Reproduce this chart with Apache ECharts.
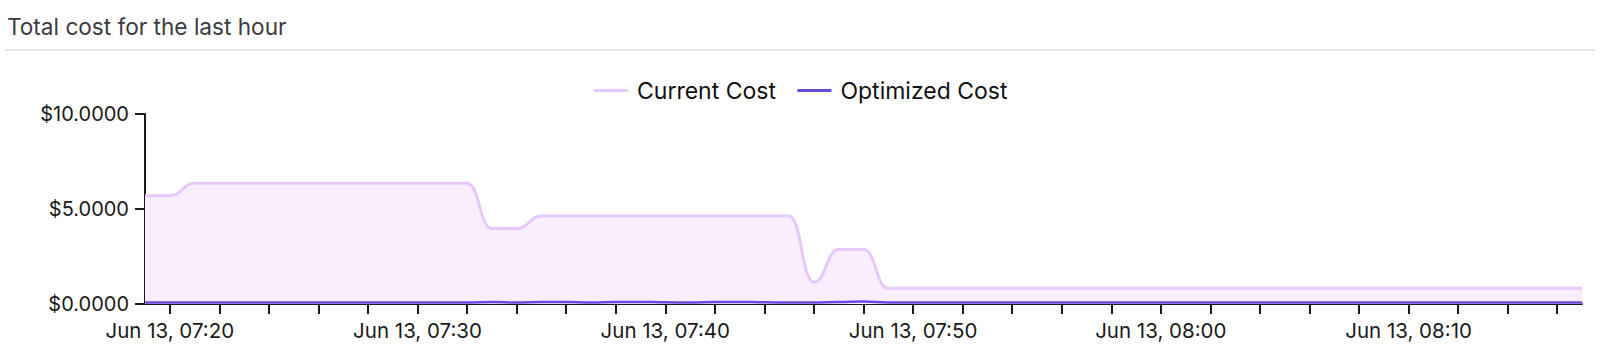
<!DOCTYPE html>
<html>
<head>
<meta charset="utf-8">
<style>
  html, body { margin: 0; padding: 0; background: #fff; }
  #chart { width: 1600px; height: 362px; }
</style>
<script src="https://cdn.jsdelivr.net/npm/echarts@6/dist/echarts.min.js"></script>
</head>
<body>
<div id="chart"></div>
<script>
// ---- data ----
const chartTitle = 'Total cost for the last hour';
const seriesNames = ['Current Cost', 'Optimized Cost'];
// one point per minute, from 07:19 to 08:17 on Jun 13
const startTime = [2024, 5, 13, 7, 19];
const minuteCount = 59;
const currentCost = [
  5.70, 5.70,
  6.35, 6.35, 6.35, 6.35, 6.35, 6.35, 6.35, 6.35, 6.35, 6.35, 6.35, 6.35,
  3.97, 3.97,
  4.63, 4.63, 4.63, 4.63, 4.63, 4.63, 4.63, 4.63, 4.63, 4.63, 4.63,
  1.15,
  2.87, 2.87,
  0.83, 0.83, 0.83, 0.83, 0.83, 0.83, 0.83, 0.83, 0.83, 0.83,
  0.83, 0.83, 0.83, 0.83, 0.83, 0.83, 0.83, 0.83, 0.83, 0.83,
  0.83, 0.83, 0.83, 0.83, 0.83, 0.83, 0.83, 0.83, 0.83
];
const optimizedCost = [
  0.08, 0.08, 0.08, 0.08, 0.08, 0.08, 0.08, 0.08, 0.08, 0.08, 0.08, 0.08, 0.08, 0.08,
  0.10, 0.08, 0.11, 0.10, 0.08, 0.10, 0.11, 0.09, 0.08, 0.10, 0.11, 0.09, 0.08,
  0.08, 0.10, 0.13,
  0.08, 0.08, 0.08, 0.08, 0.08, 0.08, 0.08, 0.08, 0.08, 0.08,
  0.08, 0.08, 0.08, 0.08, 0.08, 0.08, 0.08, 0.08, 0.08, 0.08,
  0.08, 0.08, 0.08, 0.08, 0.08, 0.08, 0.08, 0.08, 0.08
];
const yTicks = [0, 5, 10];
const monthNames = ['Jan','Feb','Mar','Apr','May','Jun','Jul','Aug','Sep','Oct','Nov','Dec'];

// ---- build ----
const t0 = new Date(startTime[0], startTime[1], startTime[2], startTime[3], startTime[4]).getTime();
const times = [];
for (let i = 0; i < minuteCount; i++) times.push(t0 + i * 60000);
const pad = n => (n < 10 ? '0' : '') + n;
const FONT = 'Inter, "Noto Sans", sans-serif';

const chart = echarts.init(document.getElementById('chart'), null, { renderer: 'svg' });
chart.setOption({
  animation: false,
  textStyle: { fontFamily: FONT },
  title: {
    text: chartTitle,
    left: 2, top: 10,
    textStyle: { fontFamily: FONT, fontSize: 22.6, fontWeight: 'normal', color: '#3b3b40' }
  },
  graphic: [{
    type: 'rect',
    shape: { x: 5, y: 49, width: 1590, height: 2 },
    style: { fill: '#e4e4e7' },
    silent: true
  }],
  legend: {
    top: 74, left: 'center',
    itemWidth: 34, itemHeight: 3,
    itemGap: 20,
    lineStyle: { width: 3 },
    textStyle: { fontFamily: FONT, fontSize: 23, color: '#111', padding: [0, 0, 0, 4] },
    data: seriesNames
  },
  grid: { left: 145, right: 18, top: 114, bottom: 58, containLabel: false },
  xAxis: {
    type: 'time',
    min: times[0], max: times[times.length - 1],
    minInterval: 300000, maxInterval: 300000,
    axisLine: { show: true, lineStyle: { color: '#1a1a1a', width: 2 } },
    axisTick: { show: true, length: 10, lineStyle: { color: '#1a1a1a', width: 2 } },
    splitLine: { show: false },
    axisLabel: {
      margin: 16, fontSize: 20.5, color: '#1a1a1a', fontFamily: FONT,
      showMinLabel: false, showMaxLabel: false,
      formatter: function (val) {
        const d = new Date(val);
        if (d.getMinutes() % 10 !== 0) return '';
        return monthNames[d.getMonth()] + ' ' + d.getDate() + ', ' + pad(d.getHours()) + ':' + pad(d.getMinutes());
      }
    }
  },
  yAxis: {
    type: 'value',
    min: yTicks[0], max: yTicks[yTicks.length - 1], interval: yTicks[1] - yTicks[0],
    axisLine: { show: true, lineStyle: { color: '#1a1a1a', width: 2 } },
    axisTick: { show: true, length: 10, lineStyle: { color: '#1a1a1a', width: 2 } },
    splitLine: { show: false },
    axisLabel: {
      margin: 16, fontSize: 20, color: '#1a1a1a', fontFamily: FONT,
      formatter: v => '$' + v.toFixed(4)
    }
  },
  series: [
    {
      name: seriesNames[0], type: 'line',
      data: times.map((t, i) => [t, currentCost[i]]),
      smooth: 0.5, smoothMonotone: 'x',
      symbol: 'none',
      lineStyle: { color: '#e6c8fb', width: 3 },
      itemStyle: { color: '#e6c8fb' },
      areaStyle: { color: '#f9eefd', opacity: 1 }
    },
    {
      name: seriesNames[1], type: 'line',
      data: times.map((t, i) => [t, optimizedCost[i]]),
      smooth: 0.5, smoothMonotone: 'x',
      symbol: 'none',
      lineStyle: { color: '#6b4ae0', width: 2.5 },
      itemStyle: { color: '#6b4ae0' }
    }
  ]
});
</script>
</body>
</html>
